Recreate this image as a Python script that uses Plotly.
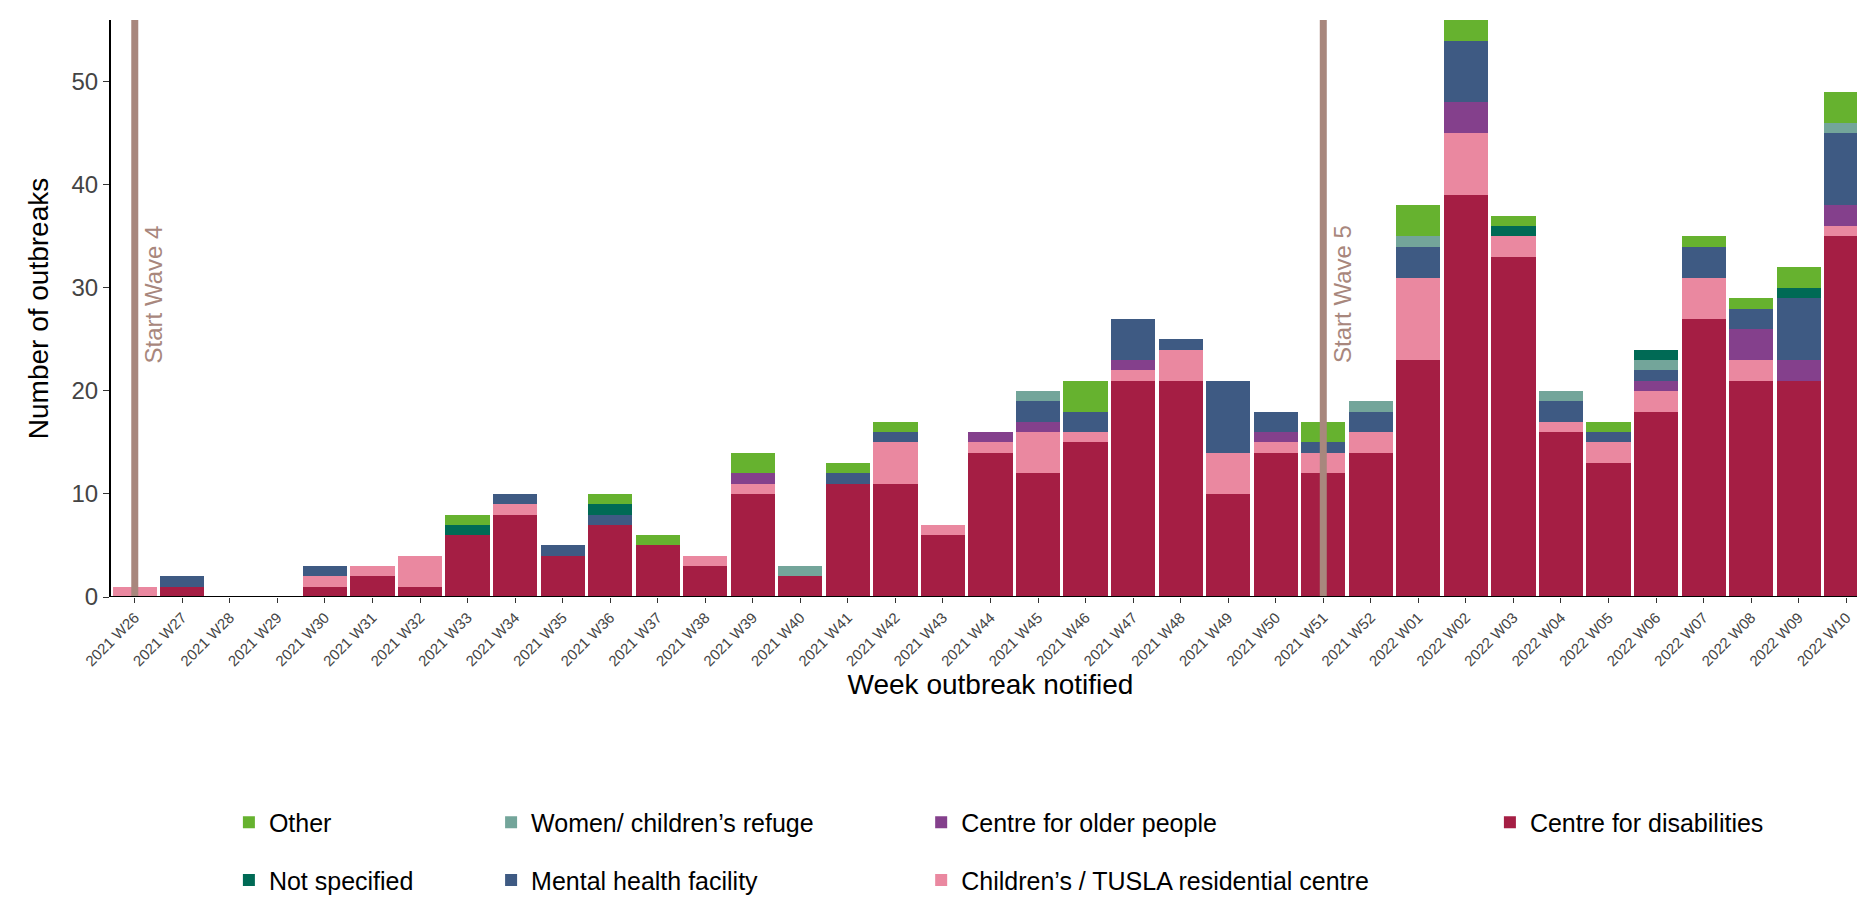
import plotly.graph_objects as go

weeks = ["2021 W26","2021 W27","2021 W28","2021 W29","2021 W30","2021 W31","2021 W32","2021 W33","2021 W34","2021 W35",
         "2021 W36","2021 W37","2021 W38","2021 W39","2021 W40","2021 W41","2021 W42","2021 W43","2021 W44","2021 W45",
         "2021 W46","2021 W47","2021 W48","2021 W49","2021 W50","2021 W51","2021 W52","2022 W01","2022 W02","2022 W03",
         "2022 W04","2022 W05","2022 W06","2022 W07","2022 W08","2022 W09","2022 W10"]
disabilities = [0,1,0,0,1,2,1,6,8,4,7,5,3,10,2,11,11,6,14,12,15,21,21,10,14,12,14,23,39,33,16,13,18,27,21,21,35]
children     = [1,0,0,0,1,1,3,0,1,0,0,0,1,1,0,0,4,1,1,4,1,1,3,4,1,2,2,8,6,2,1,2,2,4,2,0,1]
older        = [0,0,0,0,0,0,0,0,0,0,0,0,0,1,0,0,0,0,1,1,0,1,0,0,1,0,0,0,3,0,0,0,1,0,3,2,2]
mental       = [0,1,0,0,1,0,0,0,1,1,1,0,0,0,0,1,1,0,0,2,2,4,1,7,2,1,2,3,6,0,2,1,1,3,2,6,7]
women        = [0,0,0,0,0,0,0,0,0,0,0,0,0,0,1,0,0,0,0,1,0,0,0,0,0,0,1,1,0,0,1,0,1,0,0,0,1]
notspec      = [0,0,0,0,0,0,0,1,0,0,1,0,0,0,0,0,0,0,0,0,0,0,0,0,0,0,0,0,0,1,0,0,1,0,0,1,0]
other        = [0,0,0,0,0,0,0,1,0,0,1,1,0,2,0,1,1,0,0,0,3,0,0,0,0,2,0,3,2,1,0,1,0,1,1,2,3]
wave_weeks = ["2021 W26", "2021 W51"]
wave_labels = ["Start Wave 4", "Start Wave 5"]

# (name, values, colour, legend column, legend row)
series = [
    ("Centre for disabilities", disabilities, "#A51E44", 3, 0),
    ("Children’s / TUSLA residential centre", children, "#EA88A0", 2, 1),
    ("Centre for older people", older, "#84408C", 2, 0),
    ("Mental health facility", mental, "#3E5A83", 1, 1),
    ("Women/ children’s refuge", women, "#73A59A", 1, 0),
    ("Not specified", notspec, "#006A55", 0, 1),
    ("Other", other, "#66B22F", 0, 0),
]
col_x = [125, 403, 859, 1462]
row_y = [-0.391, -0.491]

fig = go.Figure()
legends = {}
for i, (name, vals, col, c, r) in enumerate(series):
    key = "legend" if i == 0 else f"legend{i+1}"
    fig.add_trace(go.Bar(x=weeks, y=vals, name=name, marker_color=col,
                         marker_line_width=0, legend=key, showlegend=True))
    legends[key] = dict(orientation="v", x=col_x[c]/1865, y=row_y[r],
                        xanchor="left", yanchor="middle",
                        font=dict(size=25, color="black"), itemwidth=30)

for w, lab in zip(wave_weeks, wave_labels):
    fig.add_shape(type="line", x0=w, x1=w, yref="paper", y0=0, y1=1,
                  line=dict(color="#A8877D", width=7), layer="above")
    fig.add_annotation(x=w, y=22.5, text=lab, textangle=-90, showarrow=False,
                       xanchor="left", yanchor="bottom", xshift=3,
                       font=dict(size=24, color="#A8877D"))

fig.update_layout(
    barmode="stack", bargap=0.07, showlegend=True,
    width=1865, height=899, plot_bgcolor="white", paper_bgcolor="white",
    font=dict(family="Liberation Sans, Arial", color="black"),
    margin=dict(l=103, r=3, t=12, b=310),
    xaxis=dict(title=dict(text="Week outbreak notified", font=dict(size=28), standoff=2),
               tickangle=-45, tickfont=dict(size=15, color="#444"),
               ticks="outside", ticklen=5, tickcolor="#333"),
    yaxis=dict(title=dict(text="Number of outbreaks", font=dict(size=28)),
               range=[0, 56], dtick=10, tickfont=dict(size=24, color="#444"),
               showline=True, linecolor="black", linewidth=2, ticks="outside",
               ticklen=6, tickcolor="#333", showgrid=False, zeroline=False),
    **legends,
)
fig.add_shape(type="line", xref="paper", yref="y", x0=0, x1=1, y0=0, y1=0,
              line=dict(color="black", width=2))
fig.write_html("out.html")
